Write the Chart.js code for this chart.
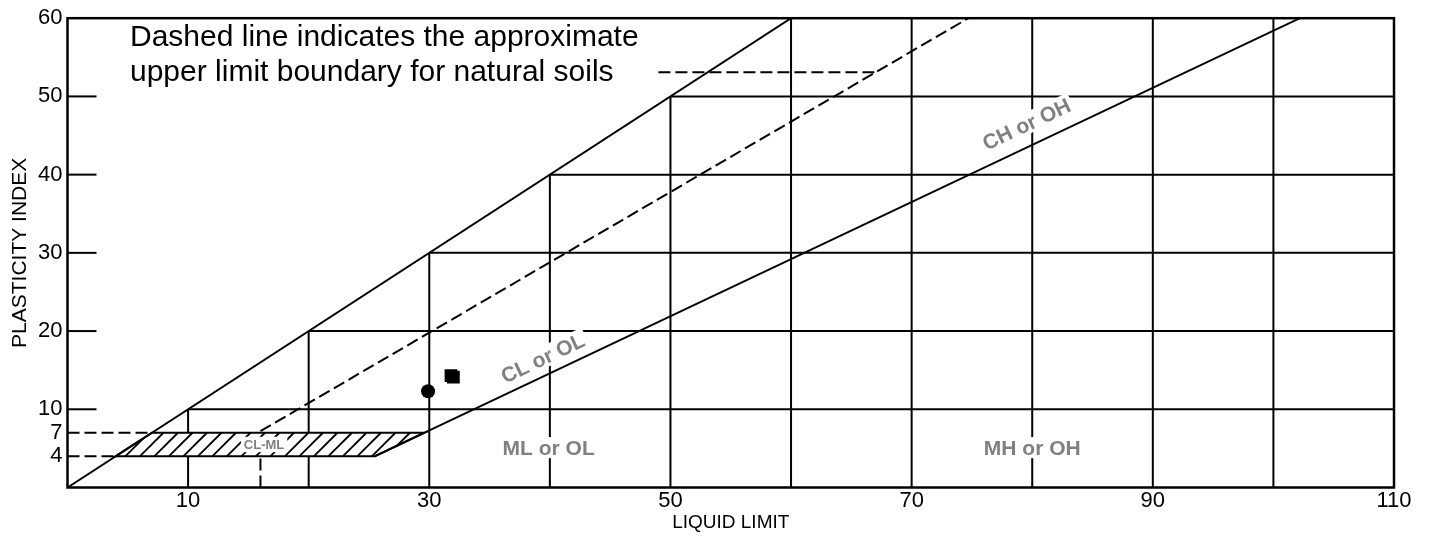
<!DOCTYPE html>
<html>
<head>
<meta charset="utf-8">
<title>Plasticity Chart</title>
<script src="https://cdn.jsdelivr.net/npm/chart.js@4.4.0/dist/chart.umd.min.js"></script>
<style>
    html, body { margin: 0; padding: 0; background: #fff; }
    #wrap { position: relative; width: 1429px; height: 538px; }
</style>
</head>
<body>
<div id="wrap"><canvas id="plasticityChart"></canvas></div>
<script>
// Axis tick labels
const xTickValues = [10, 30, 50, 70, 90, 110];
const yTickValues = [4, 7, 10, 20, 30, 40, 50, 60];

// Staircase grid (verticals run up to the outer line, horizontals start from it)
const gridXValues = [10, 20, 30, 40, 50, 60, 70, 80, 90, 100];
const gridYValues = [10, 20, 30, 40, 50];
const leftTickValues = [10, 20, 30, 40, 50];

// Boundary lines as [liquid limit, plasticity index]
const outerLine = [[0, 0], [60, 60]];
const aLine = [[25.5, 4], [102.2, 60]];
const uLine = [[16, 7.2], [74.7, 60]];
const uLineCap = [[49, 53.1], [67, 53.1]];
const clmlLow = [[0, 4], [4, 4]];
const clmlHigh = [[0, 7], [7, 7]];
const clmlStem = [[16, 0], [16, 4]];
const clmlZone = [[4, 4], [7, 7], [29.6, 7], [25.5, 4]];

// Test results
const circlePoints = [[29.9, 12.3]];
const squarePoints = [[31.8, 14.3], [32.0, 14.1]];

// Zone labels
const zoneLabels = [
    { text: 'CL or OL', x: 39.4, y: 16.6, size: 21, slope: true },
    { text: 'CH or OH', x: 79.5, y: 46.5, size: 21, slope: true },
    { text: 'ML or OL', x: 39.9, y: 5.1, size: 21, slope: false },
    { text: 'MH or OH', x: 80, y: 5.1, size: 21, slope: false },
    { text: 'CL-ML', x: 16.3, y: 5.5, size: 13, slope: false }
];
const noteLines = ['Dashed line indicates the approximate', 'upper limit boundary for natural soils'];

const FONT = '"Liberation Sans", Arial, Helvetica, sans-serif';

function toXY(pairs) {
    return pairs.map(p => ({ x: p[0], y: p[1] }));
}

function lineSet(pairs, dashed) {
    return {
        type: 'line',
        data: toXY(pairs),
        showLine: true,
        borderColor: '#000',
        borderWidth: 2,
        borderDash: dashed ? [12, 5] : [],
        pointRadius: 0,
        fill: false,
        tension: 0
    };
}

// Draws grid staircase, hatched CL-ML zone, labels and frame
const plasticityPlugin = {
    id: 'plasticityPlugin',
    beforeDatasetsDraw(chart) {
        const { ctx, chartArea, scales: { x, y } } = chart;
        ctx.save();
        ctx.strokeStyle = '#000';
        ctx.lineWidth = 2;

        gridXValues.forEach(v => {
            const px = x.getPixelForValue(v);
            ctx.beginPath();
            ctx.moveTo(px, y.getPixelForValue(0));
            ctx.lineTo(px, y.getPixelForValue(Math.min(v, y.max)));
            ctx.stroke();
        });
        gridYValues.forEach(v => {
            const py = y.getPixelForValue(v);
            ctx.beginPath();
            ctx.moveTo(x.getPixelForValue(v), py);
            ctx.lineTo(x.getPixelForValue(x.max), py);
            ctx.stroke();
        });
        leftTickValues.forEach(v => {
            const py = y.getPixelForValue(v);
            ctx.beginPath();
            ctx.moveTo(chartArea.left, py);
            ctx.lineTo(chartArea.left + 29, py);
            ctx.stroke();
        });

        // CL-ML hatched zone
        const zonePath = () => {
            ctx.beginPath();
            clmlZone.forEach((p, i) => {
                const px = x.getPixelForValue(p[0]);
                const py = y.getPixelForValue(p[1]);
                if (i === 0) ctx.moveTo(px, py); else ctx.lineTo(px, py);
            });
            ctx.closePath();
        };
        zonePath();
        ctx.fillStyle = '#fff';
        ctx.fill();
        ctx.save();
        zonePath();
        ctx.clip();
        const top = y.getPixelForValue(7);
        const bottom = y.getPixelForValue(4);
        const h = bottom - top;
        ctx.lineWidth = 1.8;
        for (let px = x.getPixelForValue(0); px < x.getPixelForValue(32); px += 14.5) {
            ctx.beginPath();
            ctx.moveTo(px, bottom);
            ctx.lineTo(px + h, top);
            ctx.stroke();
        }
        ctx.restore();
        zonePath();
        ctx.stroke();
        ctx.restore();
    },
    afterDatasetsDraw(chart) {
        const { ctx, chartArea, scales: { x, y } } = chart;
        ctx.save();

        // slope of the A-line in pixels
        const ax0 = x.getPixelForValue(aLine[0][0]), ay0 = y.getPixelForValue(aLine[0][1]);
        const ax1 = x.getPixelForValue(aLine[1][0]), ay1 = y.getPixelForValue(aLine[1][1]);
        const angle = Math.atan2(ay1 - ay0, ax1 - ax0);

        zoneLabels.forEach(lbl => {
            ctx.save();
            ctx.translate(x.getPixelForValue(lbl.x), y.getPixelForValue(lbl.y));
            if (lbl.slope) ctx.rotate(angle);
            ctx.font = 'bold ' + lbl.size + 'px ' + FONT;
            const w = ctx.measureText(lbl.text).width;
            const capH = lbl.size * 0.72;
            ctx.fillStyle = '#fff';
            ctx.fillRect(-w / 2 - 3, -capH / 2 - 3, w + 6, capH + 6);
            ctx.fillStyle = '#808080';
            ctx.textAlign = 'center';
            ctx.textBaseline = 'alphabetic';
            ctx.fillText(lbl.text, 0, capH / 2);
            ctx.restore();
        });

        // note text
        ctx.fillStyle = '#000';
        ctx.font = '30px ' + FONT;
        ctx.textAlign = 'left';
        ctx.textBaseline = 'alphabetic';
        ctx.fillText(noteLines[0], 130, 46);
        ctx.fillText(noteLines[1], 130, 81);

        // frame
        ctx.strokeStyle = '#000';
        ctx.lineWidth = 2.5;
        ctx.strokeRect(chartArea.left, chartArea.top, chartArea.right - chartArea.left, chartArea.bottom - chartArea.top);
        ctx.restore();
    }
};

const chart = new Chart(document.getElementById('plasticityChart'), {
    type: 'scatter',
    data: {
        datasets: [
            {
                data: toXY(circlePoints),
                pointStyle: 'circle',
                pointRadius: 7,
                backgroundColor: '#000',
                borderColor: '#000',
                borderWidth: 0
            },
            {
                data: toXY(squarePoints),
                pointStyle: 'rect',
                pointRadius: 9,
                backgroundColor: '#000',
                borderColor: '#000',
                borderWidth: 0
            },
            lineSet(outerLine, false),
            lineSet(aLine, false),
            lineSet(uLine, true),
            lineSet(uLineCap, true),
            lineSet(clmlLow, true),
            lineSet(clmlHigh, true),
            lineSet(clmlStem, true)
        ]
    },
    options: {
        responsive: true,
        maintainAspectRatio: false,
        animation: false,
        layout: { padding: { top: 13.5, right: 35, left: 0, bottom: 0 } },
        plugins: {
            legend: { display: false },
            tooltip: { enabled: false }
        },
        scales: {
            x: {
                type: 'linear',
                min: 0,
                max: 110,
                grid: { display: false, drawTicks: false },
                border: { display: false },
                afterBuildTicks: scale => { scale.ticks = xTickValues.map(v => ({ value: v })); },
                afterFit: scale => { scale.height = 50.5; },
                ticks: { color: '#000', padding: 0, font: { family: FONT, size: 22 } },
                title: {
                    display: true,
                    text: 'LIQUID LIMIT',
                    color: '#000',
                    font: { family: FONT, size: 19 },
                    padding: { top: 0, bottom: 4 }
                }
            },
            y: {
                type: 'linear',
                min: 0,
                max: 60,
                grid: { display: false, drawTicks: false },
                border: { display: false },
                afterBuildTicks: scale => { scale.ticks = yTickValues.map(v => ({ value: v })); },
                afterFit: scale => { scale.width = 67.5; },
                ticks: { color: '#000', padding: 5, font: { family: FONT, size: 22 } },
                title: {
                    display: true,
                    text: 'PLASTICITY INDEX',
                    color: '#000',
                    font: { family: FONT, size: 21 },
                    padding: { top: 8, bottom: 0 }
                }
            }
        }
    },
    plugins: [plasticityPlugin]
});
</script>
</body>
</html>
